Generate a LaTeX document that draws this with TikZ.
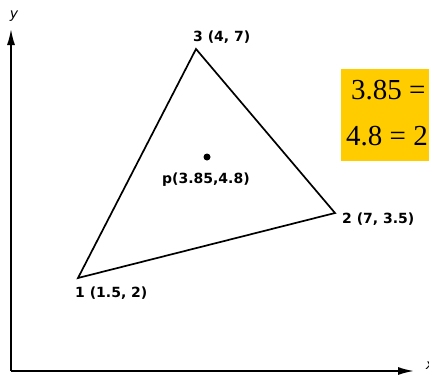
\documentclass[tikz,border=0pt]{standalone}
\usepackage{fontspec}
\usepackage{xcolor}
\usepackage{tikz}
\usetikzlibrary{arrows.meta,positioning}
\newfontfamily\barysans{DejaVu Sans}
\newfontfamily\baryserif{Liberation Serif}
\definecolor{baryInk}{HTML}{000000}
\definecolor{baryGold}{HTML}{FFCC00}
\tikzset{
  baryaxis/.style={-{Latex[length=16pt,width=8pt]},line width=1.7pt,baryInk},
  baryedge/.style={line width=1.7pt,baryInk,line join=miter},
  barylabel/.style={font=\barysans\bfseries\fontsize{14}{17}\selectfont,inner sep=0pt,
                    anchor=base west,text=baryInk},
  barydot/.style={circle,fill=baryInk,minimum size=7pt,inner sep=0pt},
  barybox/.style={fill=baryGold,draw=none},
  baryeq/.style={font=\baryserif\fontsize{29}{34}\selectfont,inner sep=0pt,
                 anchor=base west,text=baryInk},
  baryaxlabel/.style={font=\barysans\itshape\fontsize{14}{16}\selectfont,inner sep=0pt}
}
\begin{document}
\begin{tikzpicture}[x=1pt,y=-1pt]
    \useasboundingbox (0,0) rectangle (429,375);
    % axes
    \coordinate (O) at (11,371);
    \coordinate (ytip) at (11,29);
    \coordinate (xtip) at (414,371);
    \draw[baryaxis] (O) -- (ytip);
    \draw[baryaxis] (O) -- (xtip);
    \node[baryaxlabel] (ylab) at (14,16) {y};
    \node[baryaxlabel] (xlab) at (430,366) {x};

    % triangle
    \coordinate (v1) at (78,278);
    \coordinate (v2) at (335,213);
    \coordinate (v3) at (196,49);
    \draw[baryedge] (v1) -- (v2) -- (v3) -- cycle;
    \node[barylabel] (l1) at (75,297) {1 (1.5, 2)};
    \node[barylabel] (l2) at (342,223) {2 (7, 3.5)};
    \node[barylabel] (l3) at (193,41) {3 (4, 7)};

    % interior point
    \node[barydot] (p) at (207,157) {};
    \node[barylabel] (lp) at (162,183) {p(3.85,4.8)};

    % equations
    \fill[barybox] (341,69) rectangle (435,161);
    \node[baryeq] (eq1) at (351,99) {3.85 =};
    \node[baryeq] (eq2) at (346,145) {4.8 = 2};
  \end{tikzpicture}
\end{document}
